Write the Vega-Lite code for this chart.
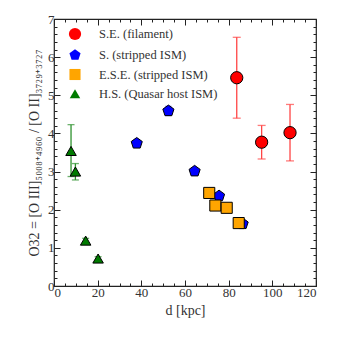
{
  "$schema": "https://vega.github.io/schema/vega-lite/v6.json",
  "width": 262,
  "height": 267,
  "autosize": "none",
  "padding": {"left": 54, "top": 19, "right": 24, "bottom": 54},
  "background": "white",
  "config": {
    "font": "Liberation Serif",
    "view": {"stroke": "#222", "strokeWidth": 1.2},
    "axis": {
      "domain": false,
      "grid": false,
      "labelFont": "Liberation Serif",
      "labelFontSize": 13,
      "labelColor": "#333",
      "titleFont": "Liberation Serif",
      "titleFontSize": 14,
      "titleFontWeight": "normal",
      "titleColor": "#333",
      "tickColor": "#222",
      "tickWidth": 1
    }
  },
  "data": {
    "values": [
      {"group": "S.E. (filament)", "d": 83.7, "o32": 5.46, "lo": 4.40, "hi": 6.52},
      {"group": "S.E. (filament)", "d": 95.1, "o32": 3.77, "lo": 3.33, "hi": 4.21},
      {"group": "S.E. (filament)", "d": 108.1, "o32": 4.02, "lo": 3.28, "hi": 4.76},
      {"group": "S. (stripped ISM)", "d": 37.9, "o32": 3.74, "lo": 3.64, "hi": 3.84},
      {"group": "S. (stripped ISM)", "d": 52.4, "o32": 4.59, "lo": 4.47, "hi": 4.71},
      {"group": "S. (stripped ISM)", "d": 64.4, "o32": 3.01, "lo": 2.98, "hi": 3.04},
      {"group": "S. (stripped ISM)", "d": 75.6, "o32": 2.36, "lo": 2.33, "hi": 2.39},
      {"group": "S. (stripped ISM)", "d": 86.4, "o32": 1.63, "lo": 1.61, "hi": 1.65},
      {"group": "E.S.E. (stripped ISM)", "d": 71.1, "o32": 2.44},
      {"group": "E.S.E. (stripped ISM)", "d": 73.9, "o32": 2.11},
      {"group": "E.S.E. (stripped ISM)", "d": 79.1, "o32": 2.05},
      {"group": "E.S.E. (stripped ISM)", "d": 84.6, "o32": 1.65},
      {"group": "H.S. (Quasar host ISM)", "d": 7.8, "o32": 3.54, "lo": 2.87, "hi": 4.23},
      {"group": "H.S. (Quasar host ISM)", "d": 9.8, "o32": 3.0, "lo": 2.78, "hi": 3.21},
      {"group": "H.S. (Quasar host ISM)", "d": 14.5, "o32": 1.19, "lo": 1.13, "hi": 1.25},
      {"group": "H.S. (Quasar host ISM)", "d": 20.2, "o32": 0.72, "lo": 0.67, "hi": 0.77}
    ]
  },
  "resolve": {"axis": {"x": "independent", "y": "independent"}},
  "layer": [
    {
      "transform": [{"filter": "datum.group === 'S.E. (filament)'"}],
      "mark": {"type": "errorbar", "ticks": {"size": 8}, "thickness": 1.3, "color": "#ff4545"},
      "encoding": {
        "x": {
          "field": "d", "type": "quantitative",
          "scale": {"domain": [0, 120], "nice": false},
          "axis": {
            "orient": "top", "labels": false, "title": null,
            "values": [0,5,10,15,20,25,30,35,40,45,50,55,60,65,70,75,80,85,90,95,100,105,110,115,120],
            "tickSize": {"condition": {"test": "datum.value % 20 === 0", "value": -6}, "value": -3}
          }
        },
        "y": {
          "field": "lo", "type": "quantitative",
          "scale": {"domain": [0, 7], "nice": false},
          "axis": {
            "orient": "right", "labels": false, "title": null,
            "values": [0,0.2,0.4,0.6,0.8,1,1.2,1.4,1.6,1.8,2,2.2,2.4,2.6,2.8,3,3.2,3.4,3.6,3.8,4,4.2,4.4,4.6,4.8,5,5.2,5.4,5.6,5.8,6,6.2,6.4,6.6,6.8,7],
            "tickSize": {"condition": {"test": "abs(datum.value - round(datum.value)) < 0.001", "value": -6}, "value": -3}
          }
        },
        "y2": {"field": "hi"}
      }
    },
    {
      "transform": [{"filter": "datum.group === 'S. (stripped ISM)'"}],
      "mark": {"type": "errorbar", "ticks": {"size": 6}, "thickness": 1.3, "color": "#3030ff"},
      "encoding": {
        "x": {"field": "d", "type": "quantitative", "axis": null},
        "y": {"field": "lo", "type": "quantitative", "axis": null},
        "y2": {"field": "hi"}
      }
    },
    {
      "transform": [{"filter": "datum.group === 'H.S. (Quasar host ISM)'"}],
      "mark": {"type": "errorbar", "ticks": {"size": 7}, "thickness": 1.3, "color": "#2f922f"},
      "encoding": {
        "x": {"field": "d", "type": "quantitative", "axis": null},
        "y": {"field": "lo", "type": "quantitative", "axis": null},
        "y2": {"field": "hi"}
      }
    },
    {
      "mark": {"type": "point", "filled": true, "opacity": 1, "stroke": "black", "strokeWidth": 1},
      "encoding": {
        "x": {
          "field": "d", "type": "quantitative",
          "scale": {"domain": [0, 120], "nice": false},
          "axis": {
            "orient": "bottom", "title": "d [kpc]",
            "values": [0,5,10,15,20,25,30,35,40,45,50,55,60,65,70,75,80,85,90,95,100,105,110,115,120],
            "labelExpr": "datum.value % 20 === 0 ? format(datum.value, 'd') : ''",
            "labelPadding": 6,
            "titlePadding": 4,
            "tickSize": {"condition": {"test": "datum.value % 20 === 0", "value": -6}, "value": -3}
          }
        },
        "y": {
          "field": "o32", "type": "quantitative",
          "scale": {"domain": [0, 7], "nice": false},
          "axis": {
            "orient": "left",
            "title": "O32 = [O III]₅₀₀₈₊₄₉₆₀ / [O II]₃₇₂₉₊₃₇₂₇",
            "values": [0,0.2,0.4,0.6,0.8,1,1.2,1.4,1.6,1.8,2,2.2,2.4,2.6,2.8,3,3.2,3.4,3.6,3.8,4,4.2,4.4,4.6,4.8,5,5.2,5.4,5.6,5.8,6,6.2,6.4,6.6,6.8,7],
            "labelExpr": "abs(datum.value - round(datum.value)) < 0.001 ? format(datum.value, 'd') : ''",
            "labelPadding": 6,
            "titlePadding": 6,
            "tickSize": {"condition": {"test": "abs(datum.value - round(datum.value)) < 0.001", "value": -6}, "value": -3}
          }
        },
        "color": {
          "field": "group", "type": "nominal",
          "scale": {
            "domain": ["S.E. (filament)", "S. (stripped ISM)", "E.S.E. (stripped ISM)", "H.S. (Quasar host ISM)"],
            "range": ["#ff0000", "#0000ff", "#ffa500", "#007a00"]
          },
          "legend": {
            "title": null, "orient": "none", "legendX": 14, "legendY": 8,
            "symbolSize": 130, "rowPadding": 3.5, "labelOffset": 17,
            "labelFont": "Liberation Serif", "labelFontSize": 12.5, "labelColor": "#333",
            "symbolStrokeColor": "black", "symbolStrokeWidth": 1, "symbolOpacity": 1
          }
        },
        "shape": {
          "field": "group", "type": "nominal",
          "scale": {
            "domain": ["S.E. (filament)", "S. (stripped ISM)", "E.S.E. (stripped ISM)", "H.S. (Quasar host ISM)"],
            "range": ["circle", "M0,-1L0.951,-0.309L0.588,0.809L-0.588,0.809L-0.951,-0.309Z", "square", "triangle-up"]
          },
          "legend": {
            "title": null, "orient": "none", "legendX": 14, "legendY": 8,
            "symbolSize": 130, "rowPadding": 3.5, "labelOffset": 17,
            "labelFont": "Liberation Serif", "labelFontSize": 12.5, "labelColor": "#333",
            "symbolStrokeColor": "black", "symbolStrokeWidth": 1, "symbolOpacity": 1
          }
        },
        "size": {
          "field": "group", "type": "nominal",
          "scale": {
            "domain": ["S.E. (filament)", "S. (stripped ISM)", "E.S.E. (stripped ISM)", "H.S. (Quasar host ISM)"],
            "range": [150, 110, 60, 100]
          },
          "legend": null
        }
      }
    }
  ]
}
